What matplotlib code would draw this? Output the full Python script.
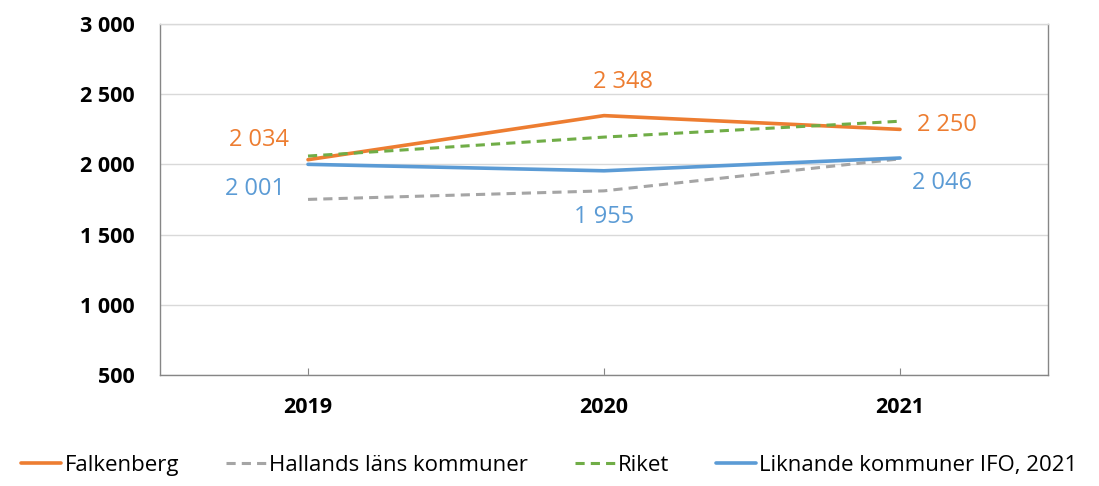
import matplotlib.pyplot as plt

years = ["2019", "2020", "2021"]
falkenberg = [2034, 2348, 2250]
hallands = [1751, 1812, 2040]
riket = [2060, 2195, 2308]
liknande = [2001, 1955, 2046]

plt.rcParams["font.family"] = ["Open Sans", "DejaVu Sans"]


def fmt(v):
    return f"{v:,}".replace(",", " ")


fig = plt.figure(figsize=(10.99, 4.86), dpi=100)
ax = fig.add_axes([0.1456, 0.2284, 0.808, 0.722])

x = range(len(years))
ax.plot(x, falkenberg, color="#ED7D31", lw=2.6, label="Falkenberg", solid_capstyle="round")
ax.plot(x, hallands, color="#A5A5A5", lw=2.2, ls=(0, (3, 2)), label="Hallands läns kommuner")
ax.plot(x, riket, color="#70AD47", lw=2.2, ls=(0, (3, 2)), label="Riket")
ax.plot(x, liknande, color="#5B9BD5", lw=2.6, label="Liknande kommuner IFO, 2021", solid_capstyle="round")

# value labels for Falkenberg and the comparison group
f_offsets = [(-35, 14), (14, 24), (34, 3)]
l_offsets = [(-38, -18), (0, -33), (30, -18)]
for i, v in enumerate(falkenberg):
    ax.annotate(fmt(v), (i, v), xytext=f_offsets[i], textcoords="offset points",
                ha="center", va="center", color="#ED7D31", fontsize=17)
for i, v in enumerate(liknande):
    ax.annotate(fmt(v), (i, v), xytext=l_offsets[i], textcoords="offset points",
                ha="center", va="center", color="#5B9BD5", fontsize=17)

ax.set_xlim(-0.5, 2.5)
ax.set_ylim(500, 3000)
ax.set_yticks(range(500, 3001, 500))
ax.set_yticklabels([fmt(t) for t in range(500, 3001, 500)], fontweight="bold", fontsize=15.5)
ax.set_xticks(list(x))
ax.set_xticklabels(years, fontweight="bold", fontsize=15.5)
ax.tick_params(axis="y", length=0, pad=18)
ax.tick_params(axis="x", direction="in", length=5, color="#868686", pad=16)
ax.yaxis.grid(True, color="#D9D9D9", lw=1)
ax.set_axisbelow(True)
for s in ax.spines.values():
    s.set_color("#868686")
    s.set_linewidth(1)
ax.spines["top"].set_color("#D9D9D9")

fig.legend(loc="lower center", ncol=4, frameon=False, fontsize=16,
           bbox_to_anchor=(0.5, -0.02), handlelength=1.8, handletextpad=0.15,
           columnspacing=2.1)

fig.savefig("out.png", dpi=100)
